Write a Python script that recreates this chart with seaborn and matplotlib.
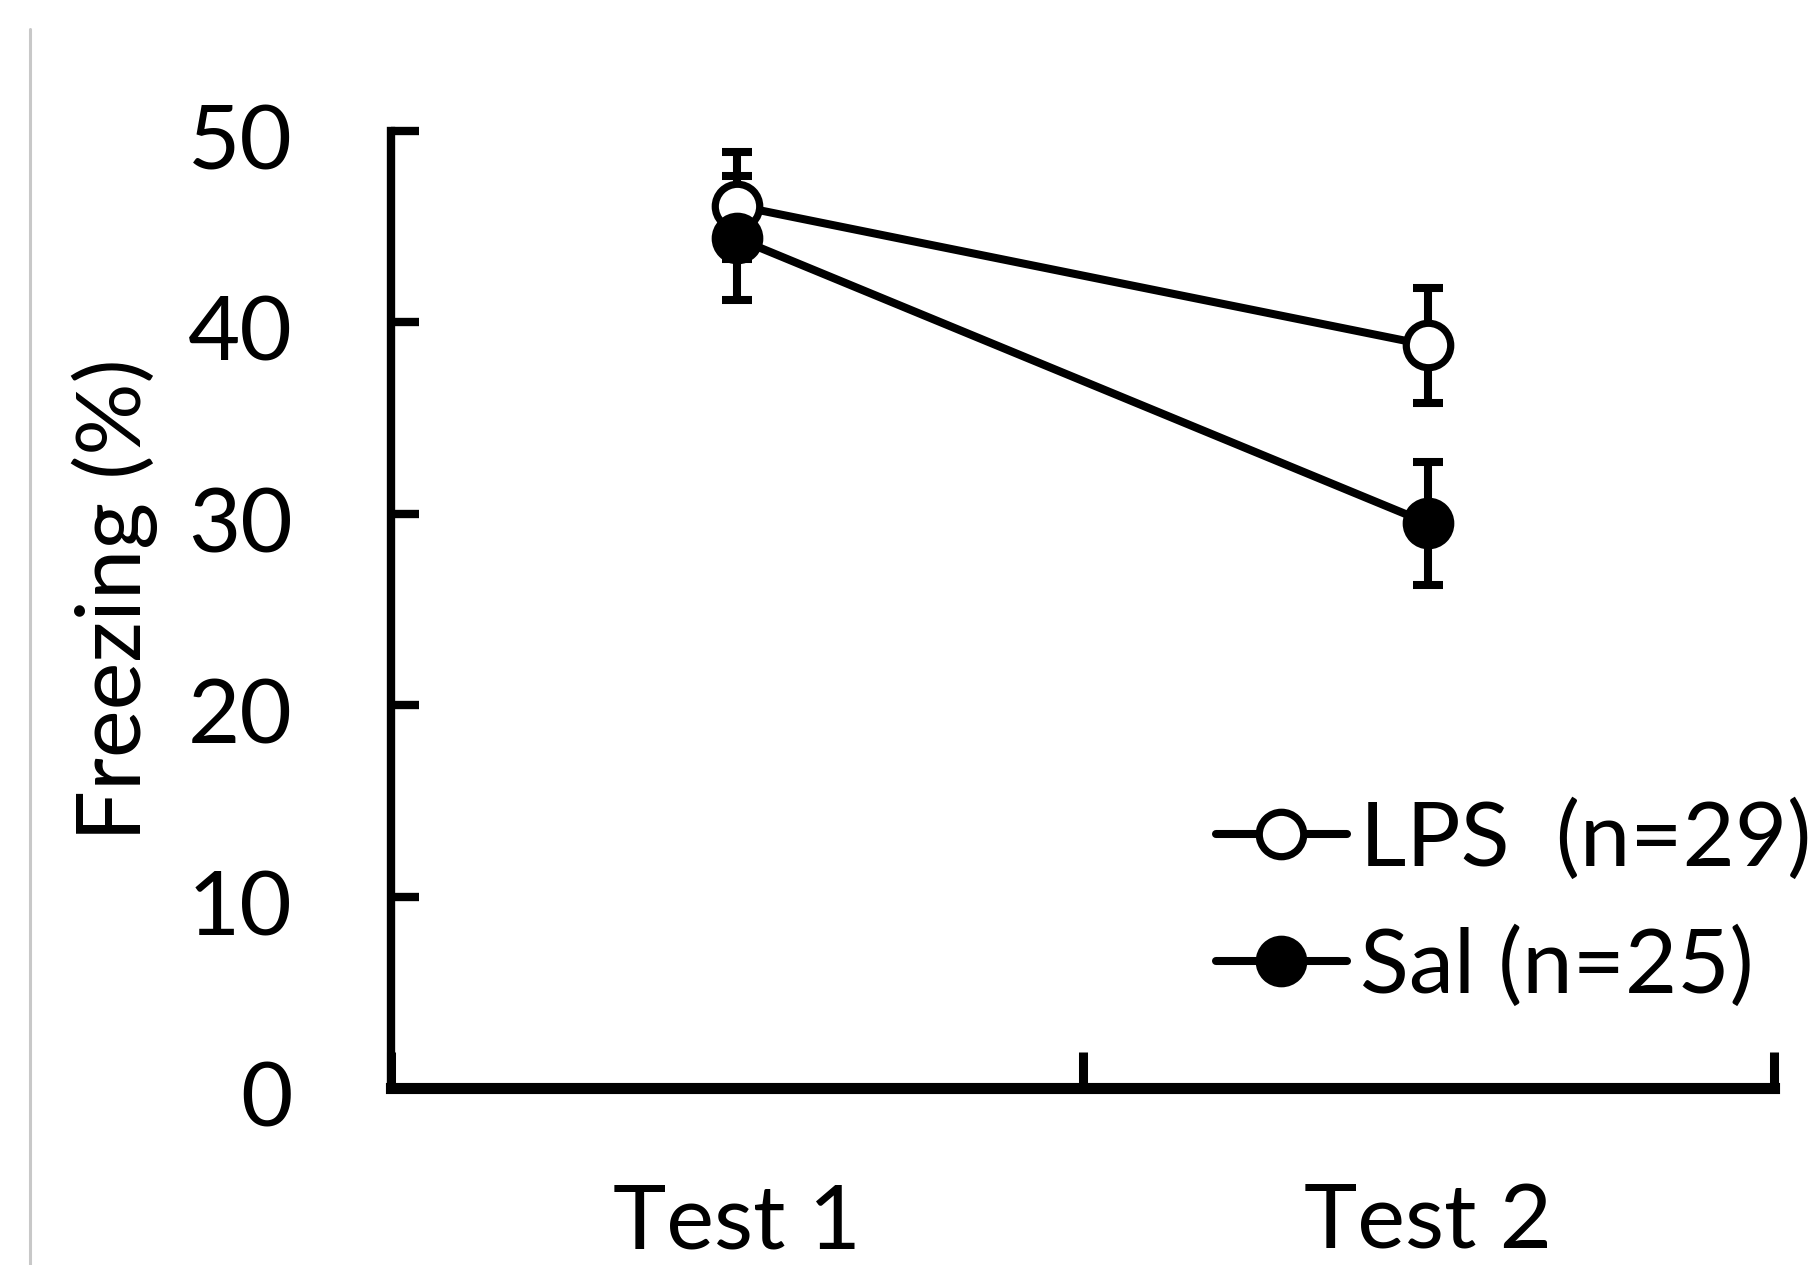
import matplotlib
matplotlib.use("Agg")
import matplotlib.pyplot as plt
import matplotlib.lines as mlines
from matplotlib.transforms import ScaledTranslation
import seaborn as sns
import pandas as pd
import numpy as np

# ---- data ----
tests = ["Test 1", "Test 2"]
groups = ["LPS  (n=29)", "Sal (n=25)"]
lps_mean = [46.1, 38.8]
lps_sem = [2.8, 3.0]
sal_mean = [44.4, 29.5]
sal_sem = [3.25, 3.2]
y_ticks = [0, 10, 20, 30, 40, 50]

df = pd.DataFrame({
    "test": tests * 2,
    "pos": [0, 1, 0, 1],
    "group": [groups[0]] * 2 + [groups[1]] * 2,
    "mean": lps_mean + sal_mean,
    "sem": lps_sem + sal_sem,
})

sns.set_theme(style="white")
plt.rcParams["font.family"] = ["Lato", "DejaVu Sans"]
plt.rcParams["text.color"] = "black"
plt.rcParams["axes.labelcolor"] = "black"
plt.rcParams["xtick.color"] = "black"
plt.rcParams["ytick.color"] = "black"

W, H, DPI = 1817, 1265, 100
fig = plt.figure(figsize=(W / DPI, H / DPI), dpi=DPI)
ax = fig.add_axes([391 / W, 1 - 1088 / H, (1774 - 391) / W, (1088 - 131) / H])

FS = 65
LW = 5.8
MS = 32
MEW = 5.2

# error bars first (beneath markers)
for g in groups:
    sub = df[df["group"] == g]
    ax.errorbar(sub["pos"], sub["mean"], yerr=sub["sem"], fmt="none",
                ecolor="black", elinewidth=LW, capsize=11, capthick=LW, zorder=1)

# lines + markers through seaborn
sns.lineplot(data=df[df["group"] == groups[0]], x="pos", y="mean", ax=ax,
             color="black", lw=LW, marker="o", markersize=MS,
             markerfacecolor="white", markeredgecolor="black", markeredgewidth=MEW,
             zorder=2, legend=False)
sns.lineplot(data=df[df["group"] == groups[1]], x="pos", y="mean", ax=ax,
             color="black", lw=LW, marker="o", markersize=MS,
             markerfacecolor="black", markeredgecolor="black", markeredgewidth=MEW,
             zorder=3, legend=False)

ax.set_xlim(-0.5, 1.5)
ax.set_ylim(0, 50)

for s in ["top", "right"]:
    ax.spines[s].set_visible(False)
ax.spines["left"].set_linewidth(6)
ax.spines["bottom"].set_linewidth(8)
ax.spines["left"].set_color("black")
ax.spines["bottom"].set_color("black")
ax.spines["left"].set_capstyle("projecting")
ax.spines["bottom"].set_capstyle("projecting")

ax.set_yticks(y_ticks)
ax.set_yticklabels([str(v) for v in y_ticks])
ax.tick_params(axis="y", direction="in", length=20, width=6, color="black",
               labelcolor="black", labelsize=FS, pad=71, left=True)
shift = ScaledTranslation(0, -4 / 72, fig.dpi_scale_trans)
for lab in ax.get_yticklabels():
    lab.set_transform(lab.get_transform() + shift)

ax.set_xticks([-0.5, 0.5, 1.5])
ax.set_xticklabels(["", "", ""])
ax.tick_params(axis="x", which="major", direction="in", length=26, width=6.5,
               color="black", bottom=True)
ax.set_xticks([0, 1], minor=True)
ax.set_xticklabels(tests, minor=True)
ax.tick_params(axis="x", which="minor", length=0, labelsize=FS, pad=68,
               labelcolor="black")

ax.set_xlabel("")
ax.set_ylabel("Freezing (%)", fontsize=FS, va="center", color="black")
ax.yaxis.set_label_coords((115 - 391) / (1774 - 391), (1088 - 600) / (1088 - 131))

# legend
h1 = mlines.Line2D([], [], color="black", lw=LW, marker="o", markersize=MS,
                   markerfacecolor="white", markeredgecolor="black", markeredgewidth=MEW)
h2 = mlines.Line2D([], [], color="black", lw=LW, marker="o", markersize=MS,
                   markerfacecolor="black", markeredgecolor="black", markeredgewidth=MEW)
leg = fig.legend([h1, h2], groups, loc="center left",
                 bbox_to_anchor=(1216 / W, 1 - 904 / H), frameon=False,
                 fontsize=FS, handlelength=1.45, handletextpad=0.15,
                 borderpad=0, borderaxespad=0, labelspacing=0.5)
for t in leg.get_texts():
    t.set_color("black")

# faint border line at left
fig.add_artist(mlines.Line2D([30 / W, 30 / W], [0, 1 - 29 / H],
                             transform=fig.transFigure, color="#c8c8c8", lw=2.2))

fig.savefig("out.png", dpi=DPI, facecolor="white")
